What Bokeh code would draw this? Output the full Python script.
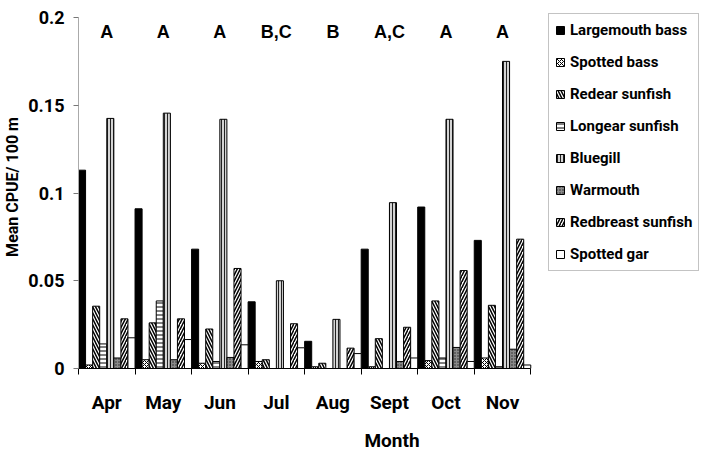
import numpy as np
from bokeh.plotting import figure
from bokeh.models import FixedTicker, Legend, LegendItem, Range1d
from bokeh.core.properties import value
from bokeh.embed import file_html
from bokeh.resources import INLINE

months = ["Apr", "May", "Jun", "Jul", "Aug", "Sept", "Oct", "Nov"]
species = ["Largemouth bass", "Spotted bass", "Redear sunfish", "Longear sunfish",
           "Bluegill", "Warmouth", "Redbreast sunfish", "Spotted gar"]

largemouth_bass = [0.113, 0.091, 0.068, 0.038, 0.0155, 0.068, 0.092, 0.073]
spotted_bass = [0.002, 0.005, 0.003, 0.004, 0.001, 0.001, 0.0045, 0.006]
redear_sunfish = [0.0355, 0.026, 0.0225, 0.005, 0.003, 0.017, 0.0385, 0.036]
longear_sunfish = [0.014, 0.0385, 0.004, 0.0, 0.0, 0.0, 0.006, 0.001]
bluegill = [0.1425, 0.1455, 0.142, 0.050, 0.028, 0.0945, 0.142, 0.175]
warmouth = [0.006, 0.005, 0.0063, 0.0, 0.0, 0.004, 0.012, 0.011]
redbreast_sunfish = [0.0283, 0.0283, 0.057, 0.0255, 0.0116, 0.0235, 0.0558, 0.0737]
spotted_gar = [0.0175, 0.0165, 0.0135, 0.0118, 0.0085, 0.006, 0.004, 0.002]

letters = ["A", "A", "A", "B,C", "B", "A,C", "A", "A"]

y_ticks = [0.0, 0.05, 0.1, 0.15, 0.2]
y_tick_labels = ["0", "0.05", "0.1", "0.15", "0.2"]

series = [largemouth_bass, spotted_bass, redear_sunfish, longear_sunfish,
          bluegill, warmouth, redbreast_sunfish, spotted_gar]

styles = [
    dict(fill_color="black", hatch_pattern=None),
    dict(fill_color="white", hatch_pattern="x", hatch_scale=4, hatch_weight=1, hatch_color="black"),
    dict(fill_color="white", hatch_pattern="\\", hatch_scale=6, hatch_weight=1.5, hatch_color="black"),
    dict(fill_color="white", hatch_pattern="-", hatch_scale=4, hatch_weight=1, hatch_color="black"),
    dict(fill_color="#d4d4d4", hatch_pattern="|", hatch_scale=3, hatch_weight=1, hatch_color="#222222"),
    dict(fill_color="#8a8a8a", hatch_pattern=".", hatch_scale=3, hatch_weight=1, hatch_color="#222222"),
    dict(fill_color="white", hatch_pattern="/", hatch_scale=6, hatch_weight=1.5, hatch_color="black"),
    dict(fill_color="white", hatch_pattern=None),
]

FONT = "Roboto"
W, H = 705, 455
FL, FB = 77, 368          # frame left / bottom (px)
FT = 5                    # frame top (px)
Y_TOP_PX = 17             # pixel row of the 0.2 tick
AX_RIGHT = 530            # where the month axis ends (px)
Y_MAX = 0.2
n_cat = len(months)
x_end = n_cat * (W - FL) / (AX_RIGHT - FL)
y_end = Y_MAX * (FB - FT) / (FB - Y_TOP_PX)

p = figure(width=W, height=H, x_range=Range1d(0, x_end), y_range=Range1d(0, y_end),
           output_backend="svg", toolbar_location=None)
p.min_border_left = FL
p.min_border_right = 0
p.min_border_top = FT
p.min_border_bottom = H - FB
p.xgrid.visible = False
p.ygrid.visible = False
p.outline_line_color = None
p.background_fill_color = "white"
p.border_fill_color = "white"

n = len(series)
bw = 1.0 / n
base = np.arange(n_cat)
items = []
for k, (vals, name, st) in enumerate(zip(series, species, styles)):
    xs = base + (k + 0.5) * bw
    r = p.vbar(x=xs, top=vals, width=bw, bottom=0, line_color="black", line_width=1, **st)
    items.append(LegendItem(label=name, renderers=[r]))

p.text(x=base + 0.5, y=[0.192] * n_cat, text=letters, text_align="center",
       text_baseline="middle", text_font=value("Liberation Sans"), text_font_style="bold",
       text_font_size="18px", text_color="black")

# x axis
xa = p.xaxis[0]
xa.bounds = (0, n_cat)
xa.ticker = FixedTicker(ticks=list(base + 0.5), minor_ticks=list(range(n_cat + 1)))
xa.major_label_overrides = {float(b + 0.5): m for b, m in zip(base, months)}
xa.major_tick_out = 0
xa.major_tick_in = 0
xa.minor_tick_out = 6
xa.minor_tick_in = 0
xa.minor_tick_line_color = "black"
xa.axis_line_color = "black"
xa.major_label_standoff = 16
xa.major_label_text_font = FONT
xa.major_label_text_font_style = "bold"
xa.major_label_text_font_size = "19px"
xa.major_label_text_color = "black"
xa.axis_label = "Month"
xa.axis_label_standoff = 12
xa.axis_label_text_font = FONT
xa.axis_label_text_font_style = "bold"
xa.axis_label_text_font_size = "19px"
xa.axis_label_text_color = "black"

# y axis
ya = p.yaxis[0]
ya.bounds = (0, Y_MAX)
ya.ticker = FixedTicker(ticks=y_ticks, minor_ticks=[])
ya.major_label_overrides = {t: l for t, l in zip(y_ticks, y_tick_labels)}
ya.major_tick_out = 5
ya.major_tick_in = 0
ya.major_tick_line_color = "#777777"
ya.axis_line_color = "#aaaaaa"
ya.major_label_standoff = 9
ya.major_label_text_font = FONT
ya.major_label_text_font_style = "bold"
ya.major_label_text_font_size = "18px"
ya.major_label_text_color = "black"
ya.axis_label = "Mean CPUE/ 100 m"
ya.axis_label_standoff = 3
ya.axis_label_text_font = FONT
ya.axis_label_text_font_style = "bold"
ya.axis_label_text_font_size = "16px"
ya.axis_label_text_color = "black"

legend = Legend(items=items, location=(547 - FL, FB - 271))
legend.padding = 6
legend.spacing = 12
legend.label_height = 20
legend.glyph_height = 10
legend.glyph_width = 10
legend.label_standoff = 5
legend.margin = 0
legend.border_line_color = "#888888"
legend.border_line_width = 1
legend.background_fill_color = "white"
legend.background_fill_alpha = 1
legend.label_text_font = FONT
legend.label_text_font_style = "bold"
legend.label_text_font_size = "15px"
legend.label_text_color = "black"
p.add_layout(legend, "center")

open("out.html", "w").write(file_html(p, INLINE))
